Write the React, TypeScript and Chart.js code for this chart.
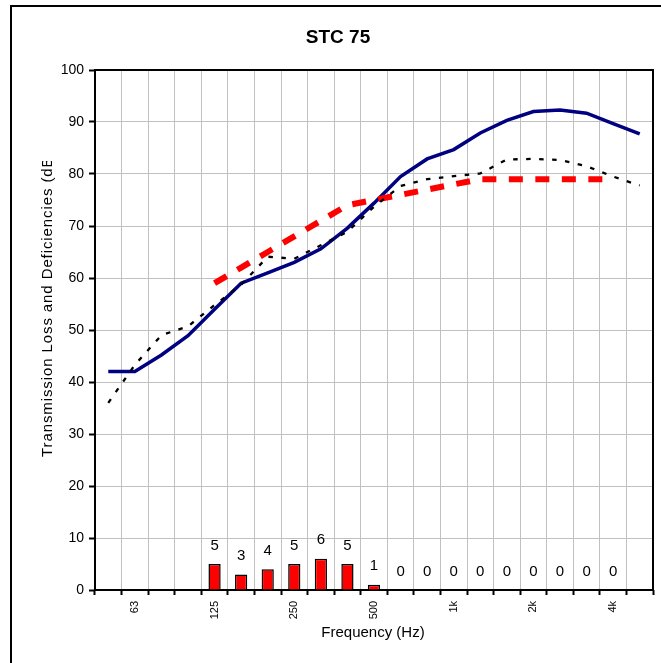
import React, { useEffect, useRef } from "react";
import { Chart, registerables } from "chart.js";

Chart.register(...registerables);

const categories = ["50", "63", "80", "100", "125", "160", "200", "250", "315", "400", "500", "630", "800", "1000", "1250", "1600", "2000", "2500", "3150", "4000", "5000"];
const tickLabels = ["", "63", "", "", "125", "", "", "250", "", "", "500", "", "", "1k", "", "", "2k", "", "", "4k", ""];
const measuredTL = [42, 42, 45.2, 48.9, 54, 59, 61, 63, 65.6, 69.6, 74.4, 79.5, 82.9, 84.7, 87.9, 90.3, 92, 92.3, 91.7, 89.7, 87.7];
const stcContour = [null, null, null, null, 59, 62, 65, 68, 71, 74, 75, 76, 77, 78, 79, 79, 79, 79, 79, 79, null];
const deficiencies = [null, null, null, null, 5, 3, 4, 5, 6, 5, 1, 0, 0, 0, 0, 0, 0, 0, 0, 0, null];
const secondCurve = [36, 43.3, 49, 50.7, 54.8, 58.7, 64.1, 63.7, 66.3, 68.9, 73.7, 77.7, 79, 79.6, 80.1, 82.8, 82.9, 82.7, 81.5, 79.5, 77.8];

const titleText = "STC 75";
const xTitle = "Frequency (Hz)";
const yTitle = "Transmission Loss and Deficiencies (dB)";

const FONT = "'Liberation Sans', Arial, sans-serif";

export default function App() {
  const ref = useRef<HTMLCanvasElement | null>(null);

  useEffect(() => {
    const canvas = ref.current;
    if (!canvas) return;

    const decor = {
      id: "decor",
      beforeDraw(chart: any) {
        const ctx = chart.ctx;
        ctx.save();
        ctx.fillStyle = "#fff";
        ctx.fillRect(0, 0, chart.width, chart.height);
        ctx.strokeStyle = "#000";
        ctx.lineWidth = 2;
        ctx.strokeRect(11, 6, 900, 900);
        ctx.restore();
      },
      beforeDatasetsDraw(chart: any) {
        const { ctx, chartArea } = chart;
        ctx.save();
        ctx.strokeStyle = "#000";
        ctx.lineWidth = 2;
        ctx.strokeRect(chartArea.left, chartArea.top, chartArea.right - chartArea.left, chartArea.bottom - chartArea.top);
        ctx.restore();
      },
      afterDatasetsDraw(chart: any) {
        const { ctx } = chart;
        const meta = chart.getDatasetMeta(3);
        ctx.save();
        ctx.fillStyle = "#000";
        ctx.font = `15px ${FONT}`;
        ctx.textAlign = "center";
        ctx.textBaseline = "middle";
        meta.data.forEach((el: any, i: number) => {
          const v = deficiencies[i];
          if (v === null || v === undefined) return;
          ctx.fillText(String(v), el.x, el.y - 18.5);
        });
        ctx.restore();
      },
      afterDraw(chart: any) {
        const { ctx } = chart;
        ctx.save();
        ctx.fillStyle = "#000";
        ctx.textAlign = "center";
        ctx.textBaseline = "middle";
        ctx.font = `bold 19px ${FONT}`;
        ctx.fillText(titleText, 338, 38);
        ctx.font = `15px ${FONT}`;
        ctx.fillText(xTitle, 373, 633);
        ctx.beginPath();
        ctx.rect(0, 161, 95, 500);
        ctx.clip();
        ctx.translate(48, 457);
        ctx.rotate(-Math.PI / 2);
        ctx.textAlign = "left";
        (ctx as any).letterSpacing = "0.9px";
        ctx.fillText(yTitle, 0, 0);
        ctx.restore();
      },
    };

    const chart = new Chart(canvas, {
      type: "bar",
      data: {
        labels: categories,
        datasets: [
          {
            type: "line",
            label: "Second curve",
            data: secondCurve,
            borderColor: "#000",
            borderWidth: 2.3,
            borderDash: [4.5, 8.5],
            pointRadius: 0,
            tension: 0,
            fill: false,
          },
          {
            type: "line",
            label: "STC contour",
            data: stcContour as any,
            borderColor: "#ff0000",
            borderWidth: 6,
            borderDash: [14, 12.5],
            borderCapStyle: "butt",
            pointRadius: 0,
            tension: 0,
            fill: false,
          },
          {
            type: "line",
            label: "Transmission loss",
            data: measuredTL,
            borderColor: "#000080",
            borderWidth: 3.5,
            pointRadius: 0,
            tension: 0,
            fill: false,
          },
          {
            type: "bar",
            label: "Deficiencies",
            data: deficiencies as any,
            backgroundColor: "#ff0000",
            borderColor: "#000",
            borderWidth: 1.5,
            categoryPercentage: 1,
            barPercentage: 0.46,
          },
        ],
      },
      options: {
        responsive: false,
        animation: false,
        devicePixelRatio: 1,
        layout: { padding: { top: 70, right: 8, left: 0, bottom: 0 } },
        plugins: {
          legend: { display: false },
          tooltip: { enabled: false },
          title: { display: false },
        },
        scales: {
          x: {
            type: "category",
            offset: true,
            grid: {
              offset: true,
              color: "#c0c0c0",
              lineWidth: 1,
              tickColor: "#000",
              tickLength: 5,
              tickWidth: 2,
            },
            border: { display: false },
            ticks: {
              autoSkip: false,
              minRotation: 90,
              maxRotation: 90,
              padding: 6,
              color: "#000",
              font: { family: FONT, size: 11 },
              callback: (_v: any, i: number) => tickLabels[i],
            },
            afterFit: (s: any) => {
              s.height = 73;
            },
          },
          y: {
            min: 0,
            max: 100,
            grid: {
              color: "#c0c0c0",
              lineWidth: 1,
              tickColor: "#000",
              tickLength: 6,
              tickWidth: 2,
            },
            border: { display: false },
            ticks: {
              stepSize: 10,
              padding: 5,
              color: "#000",
              font: { family: FONT, size: 14 },
            },
            afterFit: (s: any) => {
              s.width = 95;
            },
          },
        },
      },
      plugins: [decor],
    });

    return () => chart.destroy();
  }, []);

  return (
    <div style={{ position: "absolute", left: 0, top: 0, width: 661, height: 663 }}>
      <canvas ref={ref} width={661} height={663} style={{ width: 661, height: 663, display: "block" }} />
    </div>
  );
}
